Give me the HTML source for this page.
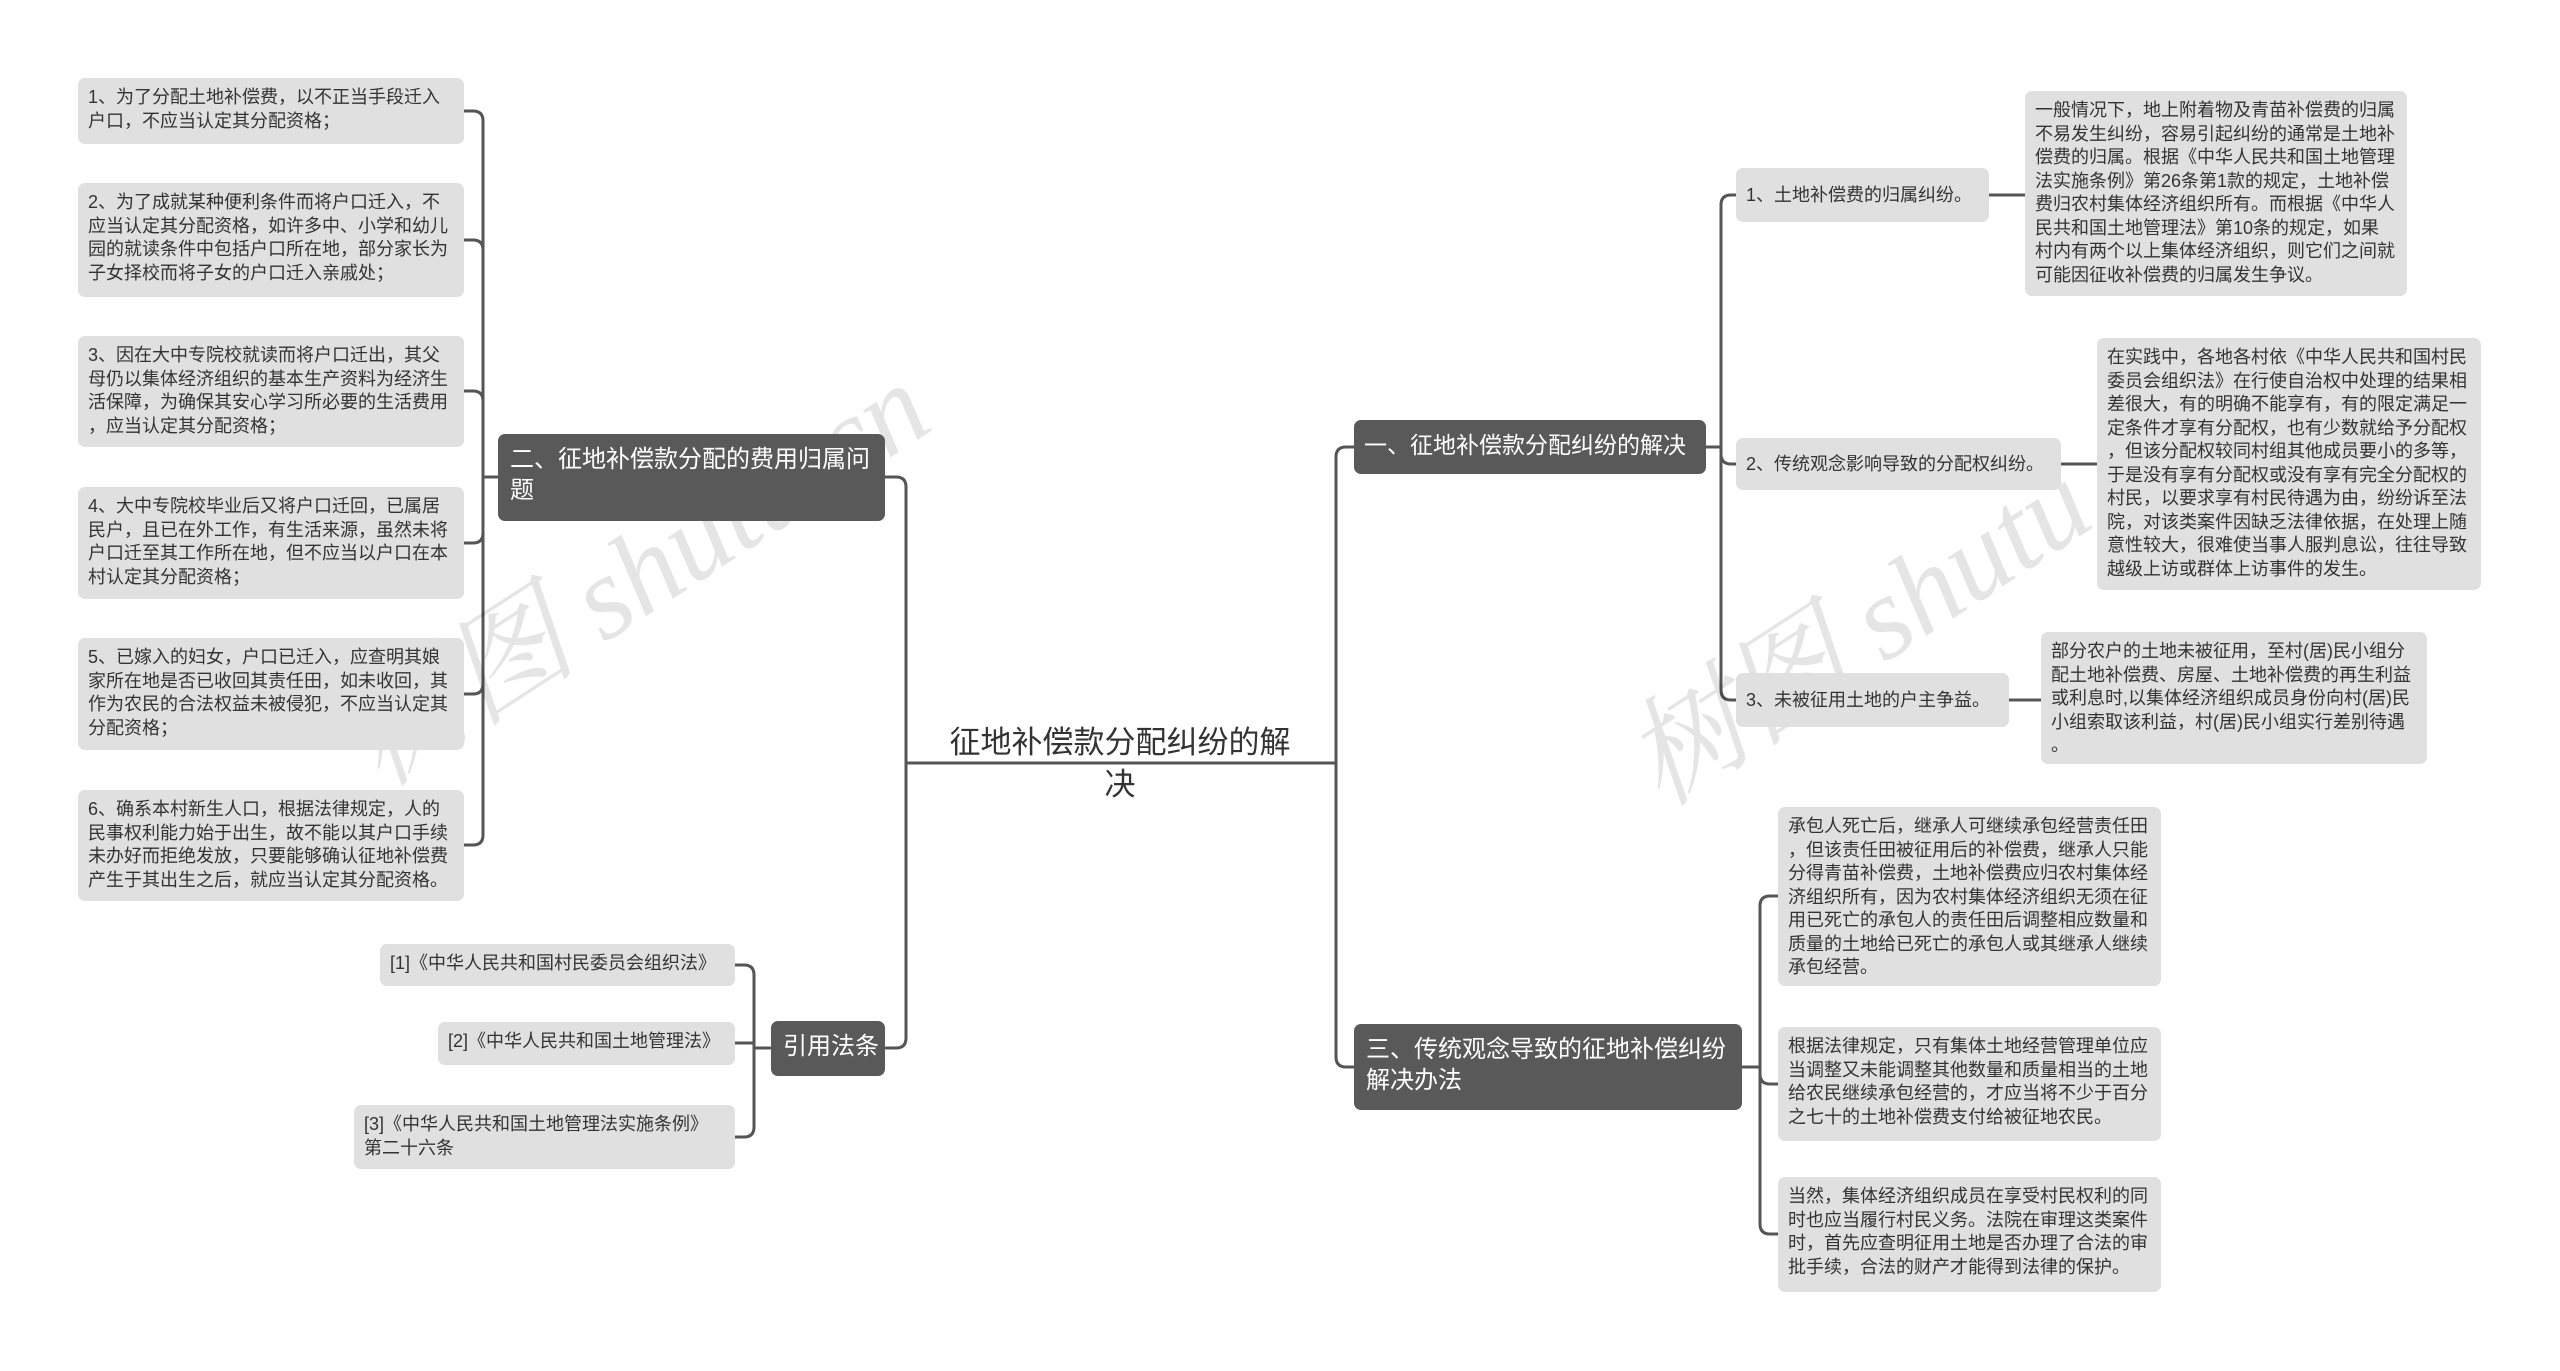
<!DOCTYPE html>
<html><head><meta charset="utf-8">
<style>
html,body{margin:0;padding:0;background:#fff;}
body{width:2560px;height:1371px;position:relative;overflow:hidden;font-family:"Liberation Sans","Noto Sans CJK SC",sans-serif;}
.b{position:absolute;box-sizing:border-box;background:#e0e0e0;border-radius:7px;color:#333;font-size:18px;line-height:23.5px;padding:8px 10px;white-space:nowrap;}
.d{position:absolute;box-sizing:border-box;background:#595959;border-radius:7px;color:#fff;font-size:24px;line-height:31px;padding:10px 12px;white-space:nowrap;}
.wm{position:absolute;font-size:118px;color:rgba(0,0,0,0.10);font-family:"Liberation Serif","Noto Serif CJK SC",serif;font-style:italic;transform:rotate(-33deg);white-space:nowrap;}
svg{position:absolute;left:0;top:0;}
</style></head><body>
<svg width="2560" height="1371" fill="none" stroke="#555" stroke-width="3">
<path d="M906 763 H1336"/>
<path d="M1336 763 V457 Q1336 447 1346 447 H1354"/>
<path d="M1336 763 V1057 Q1336 1067 1346 1067 H1354"/>
<path d="M906 763 V487 Q906 477 896 477 H885"/>
<path d="M906 763 V1038 Q906 1048 896 1048 H885"/>
<path d="M1706 447 H1721 V205 Q1721 195 1731 195 H1736"/>
<path d="M1721 447 V454 Q1721 464 1731 464 H1736"/>
<path d="M1721 447 V690 Q1721 700 1731 700 H1736"/>
<path d="M1989 195 H2025"/>
<path d="M2061 464 H2097"/>
<path d="M2009 700 H2041"/>
<path d="M1742 1067 H1760 V906 Q1760 896 1770 896 H1778"/>
<path d="M1760 1067 V1074 Q1760 1084 1770 1084 H1778"/>
<path d="M1760 1067 V1224 Q1760 1234 1770 1234 H1778"/>
<path d="M498 477 H483 V121 Q483 111 473 111 H464"/>
<path d="M483 477 V250 Q483 240 473 240 H464"/>
<path d="M483 477 V401 Q483 391 473 391 H464"/>
<path d="M483 477 V533 Q483 543 473 543 H464"/>
<path d="M483 477 V684 Q483 694 473 694 H464"/>
<path d="M483 477 V835 Q483 845 473 845 H464"/>
<path d="M771 1048 H754 V975 Q754 965 744 965 H735"/>
<path d="M754 1048 V1043 H735"/>
<path d="M754 1048 V1127 Q754 1137 744 1137 H735"/>
</svg>

<div class="wm" style="left:300px;top:480px;">树图 shutu.cn</div>
<div class="wm" style="left:1580px;top:500px;">树图 shutu.cn</div>

<div style="position:absolute;left:920px;top:722px;width:400px;text-align:center;font-size:31px;line-height:42px;color:#333;">征地补偿款分配纠纷的解<br>决</div>

<div class="d" style="left:1354px;top:420px;width:352px;height:54px;font-size:23px;padding:10px 10px;">一、征地补偿款分配纠纷的解决</div>
<div class="d" style="left:1354px;top:1024px;width:388px;height:86px;">三、传统观念导致的征地补偿纠纷<br>解决办法</div>
<div class="d" style="left:498px;top:434px;width:387px;height:87px;">二、征地补偿款分配的费用归属问<br>题</div>
<div class="d" style="left:771px;top:1021px;width:114px;height:55px;">引用法条</div>

<div class="b" style="left:78px;top:78px;width:386px;height:66px;">1、为了分配土地补偿费，以不正当手段迁入<br>户口，不应当认定其分配资格；</div>
<div class="b" style="left:78px;top:183px;width:386px;height:114px;">2、为了成就某种便利条件而将户口迁入，不<br>应当认定其分配资格，如许多中、小学和幼儿<br>园的就读条件中包括户口所在地，部分家长为<br>子女择校而将子女的户口迁入亲戚处；</div>
<div class="b" style="left:78px;top:336px;width:386px;height:111px;">3、因在大中专院校就读而将户口迁出，其父<br>母仍以集体经济组织的基本生产资料为经济生<br>活保障，为确保其安心学习所必要的生活费用<br>，应当认定其分配资格；</div>
<div class="b" style="left:78px;top:487px;width:386px;height:112px;">4、大中专院校毕业后又将户口迁回，已属居<br>民户，且已在外工作，有生活来源，虽然未将<br>户口迁至其工作所在地，但不应当以户口在本<br>村认定其分配资格；</div>
<div class="b" style="left:78px;top:638px;width:386px;height:112px;">5、已嫁入的妇女，户口已迁入，应查明其娘<br>家所在地是否已收回其责任田，如未收回，其<br>作为农民的合法权益未被侵犯，不应当认定其<br>分配资格；</div>
<div class="b" style="left:78px;top:790px;width:386px;height:111px;">6、确系本村新生人口，根据法律规定，人的<br>民事权利能力始于出生，故不能以其户口手续<br>未办好而拒绝发放，只要能够确认征地补偿费<br>产生于其出生之后，就应当认定其分配资格。</div>

<div class="b" style="left:380px;top:944px;width:355px;height:42px;">[1]《中华人民共和国村民委员会组织法》</div>
<div class="b" style="left:438px;top:1022px;width:297px;height:43px;">[2]《中华人民共和国土地管理法》</div>
<div class="b" style="left:354px;top:1105px;width:381px;height:64px;">[3]《中华人民共和国土地管理法实施条例》<br>第二十六条</div>

<div class="b" style="left:1736px;top:168px;width:253px;height:54px;line-height:38px;">1、土地补偿费的归属纠纷。</div>
<div class="b" style="left:1736px;top:438px;width:325px;height:52px;line-height:36px;">2、传统观念影响导致的分配权纠纷。</div>
<div class="b" style="left:1736px;top:673px;width:273px;height:54px;line-height:38px;">3、未被征用土地的户主争益。</div>

<div class="b" style="left:2025px;top:91px;width:382px;height:205px;">一般情况下，地上附着物及青苗补偿费的归属<br>不易发生纠纷，容易引起纠纷的通常是土地补<br>偿费的归属。根据《中华人民共和国土地管理<br>法实施条例》第26条第1款的规定，土地补偿<br>费归农村集体经济组织所有。而根据《中华人<br>民共和国土地管理法》第10条的规定，如果<br>村内有两个以上集体经济组织，则它们之间就<br>可能因征收补偿费的归属发生争议。</div>
<div class="b" style="left:2097px;top:338px;width:384px;height:252px;">在实践中，各地各村依《中华人民共和国村民<br>委员会组织法》在行使自治权中处理的结果相<br>差很大，有的明确不能享有，有的限定满足一<br>定条件才享有分配权，也有少数就给予分配权<br>，但该分配权较同村组其他成员要小的多等，<br>于是没有享有分配权或没有享有完全分配权的<br>村民，以要求享有村民待遇为由，纷纷诉至法<br>院，对该类案件因缺乏法律依据，在处理上随<br>意性较大，很难使当事人服判息讼，往往导致<br>越级上访或群体上访事件的发生。</div>
<div class="b" style="left:2041px;top:632px;width:386px;height:132px;">部分农户的土地未被征用，至村(居)民小组分<br>配土地补偿费、房屋、土地补偿费的再生利益<br>或利息时,以集体经济组织成员身份向村(居)民<br>小组索取该利益，村(居)民小组实行差别待遇<br>。</div>

<div class="b" style="left:1778px;top:807px;width:383px;height:179px;">承包人死亡后，继承人可继续承包经营责任田<br>，但该责任田被征用后的补偿费，继承人只能<br>分得青苗补偿费，土地补偿费应归农村集体经<br>济组织所有，因为农村集体经济组织无须在征<br>用已死亡的承包人的责任田后调整相应数量和<br>质量的土地给已死亡的承包人或其继承人继续<br>承包经营。</div>
<div class="b" style="left:1778px;top:1027px;width:383px;height:114px;">根据法律规定，只有集体土地经营管理单位应<br>当调整又未能调整其他数量和质量相当的土地<br>给农民继续承包经营的，才应当将不少于百分<br>之七十的土地补偿费支付给被征地农民。</div>
<div class="b" style="left:1778px;top:1177px;width:383px;height:115px;">当然，集体经济组织成员在享受村民权利的同<br>时也应当履行村民义务。法院在审理这类案件<br>时，首先应查明征用土地是否办理了合法的审<br>批手续，合法的财产才能得到法律的保护。</div>
</body></html>
